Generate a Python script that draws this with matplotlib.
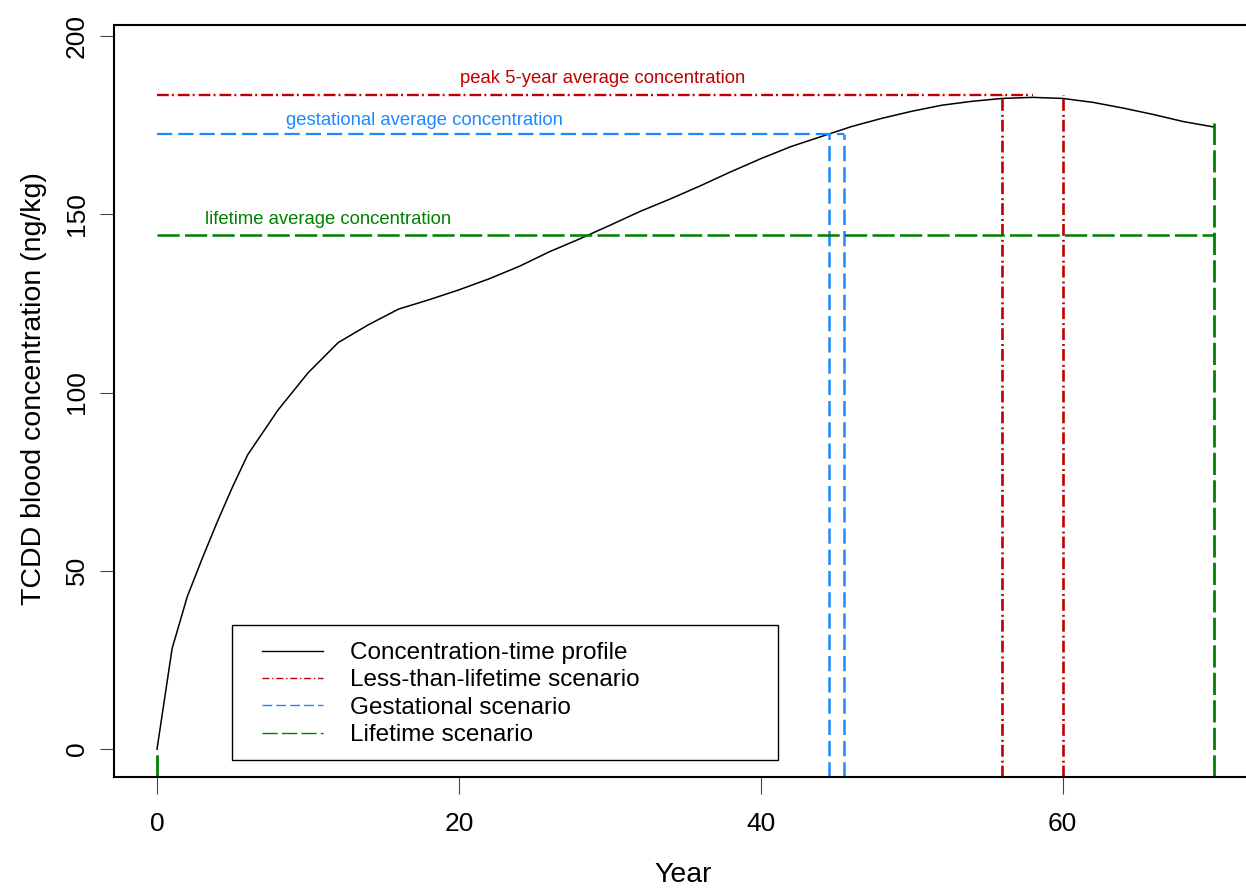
import matplotlib
matplotlib.use("Agg")
import matplotlib.pyplot as plt
from matplotlib.lines import Line2D
from matplotlib.patches import Rectangle

plt.rcParams["font.family"] = ["Liberation Sans", "DejaVu Sans"]
plt.rcParams["lines.scale_dashes"] = False

# concentration-time profile
years = [0, 1, 2, 3, 4, 5, 6, 8, 10, 12, 14, 16, 18, 20, 22, 24, 26, 28, 30,
         32, 34, 36, 38, 40, 42, 44, 46, 48, 50, 52, 54, 56, 58, 60, 62, 64,
         66, 68, 70]
conc = [0, 28.2, 42.7, 53.5, 63.8, 73.5, 82.5, 95.0, 105.5, 114.0, 119.0,
        123.4, 126.0, 128.8, 131.9, 135.4, 139.5, 143.1, 146.9, 150.8, 154.3,
        158.0, 161.9, 165.6, 169.0, 171.8, 174.6, 176.9, 178.9, 180.6, 181.7,
        182.5, 182.8, 182.5, 181.4, 179.8, 178.0, 176.0, 174.5]

# scenario averages and their windows
peak_avg = 183.4
peak_window = [56, 60]
peak_line_end = 58
gest_avg = 172.6
gest_window = [44.5, 45.5]
life_avg = 144.2
life_end = 70
life_end_conc = 175.5

red = "#C00000"
blue = "#1E88FF"
green = "#008000"

red_dash = (0, (8.5, 2.2, 1.4, 2.9))
blue_dash = (0, (11.0, 4.3))
green_dash = (0, (16.0, 3.8))

fig = plt.figure(figsize=(12.46, 8.88), dpi=100)
ax = fig.add_axes([114 / 1246, 111 / 888, 1157 / 1246, 752 / 888])

ymin, ymax = -7.85, 203.1
ax.set_xlim(-2.85, 73.8)
ax.set_ylim(ymin, ymax)

ax.plot(years, conc, color="black", lw=1.1)

# less-than-lifetime (peak 5-year)
ax.plot([0, peak_line_end], [peak_avg, peak_avg], color=red, lw=1.7, ls=red_dash)
for x in peak_window:
    ax.plot([x, x], [ymin, peak_avg], color=red, lw=1.9, ls=red_dash)

# gestational
ax.plot([0, gest_window[1]], [gest_avg, gest_avg], color=blue, lw=1.6, ls=blue_dash)
for x in gest_window:
    ax.plot([x, x], [ymin, gest_avg], color=blue, lw=1.8, ls=blue_dash)

# lifetime
ax.plot([0, life_end], [life_avg, life_avg], color=green, lw=1.8, ls=green_dash)
ax.plot([life_end, life_end], [ymin, life_end_conc], color=green, lw=2.0, ls=green_dash)
ax.plot([0, 0], [ymin, 0], color=green, lw=2.0, ls=green_dash)

ax.text(29.5, 188.2, "peak 5-year average concentration", color=red,
        fontsize=13.3, ha="center", va="center")
ax.text(17.7, 176.4, "gestational average concentration", color=blue,
        fontsize=13.3, ha="center", va="center")
ax.text(11.3, 148.4, "lifetime average concentration", color=green,
        fontsize=13.3, ha="center", va="center")

ax.set_xticks([0, 20, 40, 60])
ax.set_yticks([0, 50, 100, 150, 200])
ax.tick_params(axis="x", direction="out", length=12, width=0.8, pad=13,
               labelsize=19, color="#444444")
ax.tick_params(axis="y", direction="out", length=10, width=0.8, pad=8,
               labelsize=19, color="#444444", labelrotation=90)
for lab in ax.get_yticklabels():
    lab.set_va("center")

for s in ax.spines.values():
    s.set_linewidth(1.5)

ax.set_xlabel("Year", fontsize=20.5, labelpad=19)
ax.set_ylabel("TCDD blood concentration (ng/kg)", fontsize=20.5, labelpad=13)
ax.xaxis.label.set_x(0.4918)
ax.yaxis.label.set_y(0.517)

# legend frame drawn on its own, entries placed inside
fig.patches.append(Rectangle((232 / 1246, 128 / 888), 546 / 1246, 135 / 888,
                             transform=fig.transFigure, fill=False,
                             edgecolor="black", lw=1.0, zorder=5))

handles = [
    Line2D([], [], color="black", lw=1.0),
    Line2D([], [], color=red, lw=1.0, ls=(0, (5, 2, 1, 2))),
    Line2D([], [], color=blue, lw=1.0, ls=(0, (7, 3))),
    Line2D([], [], color=green, lw=1.0, ls=(0, (11, 3))),
]
labels = ["Concentration-time profile", "Less-than-lifetime scenario",
          "Gestational scenario", "Lifetime scenario"]
leg = ax.legend(handles, labels, loc="upper left",
                bbox_to_anchor=(262 / 1246, (888 - 642) / 888),
                bbox_transform=fig.transFigure, borderaxespad=0,
                fontsize=17.5, frameon=False, handlelength=2.5,
                handletextpad=1.1, labelspacing=0.22, borderpad=0)

fig.savefig("out.png", dpi=100)
